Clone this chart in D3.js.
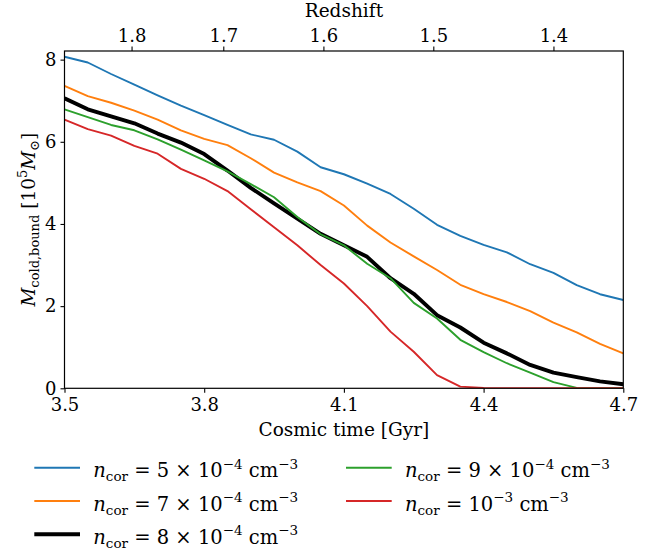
<!DOCTYPE html>
<html>
<head>
<meta charset="utf-8">
<script src="https://cdn.jsdelivr.net/npm/d3@7"></script>
<style>
  body { margin: 0; background: #fff; }
  svg { display: block; font-family: "DejaVu Serif", serif; }
  .axis text { font-size: 18px; fill: #000; font-family: "DejaVu Serif", serif; }
  .axis path, .axis line { stroke: #000; }
</style>
</head>
<body>
<svg id="chart" width="667" height="552"></svg>
<script>
// cosmic time samples [Gyr]
const times = [3.50, 3.55, 3.60, 3.65, 3.70, 3.75, 3.80, 3.85, 3.90, 3.95, 4.00, 4.05, 4.10,
  4.15, 4.20, 4.25, 4.30, 4.35, 4.40, 4.45, 4.50, 4.55, 4.60, 4.65, 4.70];

// M_cold,bound [1e5 Msun] for each n_cor
const mass5e4 = [8.07, 7.93, 7.65, 7.39, 7.13, 6.88, 6.65, 6.41, 6.18, 6.05, 5.76, 5.38, 5.21,
  4.98, 4.73, 4.37, 3.98, 3.71, 3.49, 3.31, 3.02, 2.81, 2.51, 2.29, 2.15];
const mass7e4 = [7.36, 7.11, 6.95, 6.76, 6.54, 6.28, 6.07, 5.92, 5.60, 5.25, 5.01, 4.80, 4.45,
  3.96, 3.55, 3.21, 2.88, 2.52, 2.29, 2.10, 1.88, 1.60, 1.36, 1.08, 0.85];
const mass8e4 = [7.06, 6.79, 6.62, 6.45, 6.20, 5.98, 5.70, 5.30, 4.88, 4.50, 4.13, 3.76, 3.48,
  3.20, 2.68, 2.30, 1.78, 1.48, 1.11, 0.85, 0.57, 0.38, 0.27, 0.17, 0.10];
const mass9e4 = [6.79, 6.60, 6.41, 6.28, 6.06, 5.81, 5.55, 5.28, 4.97, 4.65, 4.17, 3.75, 3.48,
  3.03, 2.68, 2.08, 1.70, 1.18, 0.88, 0.61, 0.38, 0.15, 0.01, 0, 0];
const mass1e3 = [6.54, 6.31, 6.15, 5.90, 5.71, 5.34, 5.10, 4.80, 4.36, 3.92, 3.48, 3.00, 2.55,
  2.00, 1.38, 0.89, 0.32, 0.04, 0.01, 0, 0, 0, 0, 0, 0];

const timeTicks = [3.5, 3.8, 4.1, 4.4, 4.7];
const massTicks = [0, 2, 4, 6, 8];
const redshiftLabels = ["1.8", "1.7", "1.6", "1.5", "1.4"];
const redshiftTimes = [3.644, 3.841, 4.056, 4.292, 4.550];

// legend: mantissa, exponent
const seriesNames = [["5 × ", "−4"], ["7 × ", "−4"], ["8 × ", "−4"], ["9 × ", "−4"], ["", "−3"]];
const seriesColors = ["#1f77b4", "#ff7f0e", "#000000", "#2ca02c", "#d62728"];
const seriesWidths = [1.9, 1.9, 3.9, 1.9, 1.9];
const seriesValues = [mass5e4, mass7e4, mass8e4, mass9e4, mass1e3];

const LEFT = 64.5, RIGHT = 623.3, TOP = 51, BOTTOM = 388.3;

const svg = d3.select("#chart");

const x = d3.scaleLinear().domain([3.5, 4.7]).range([LEFT, RIGHT]);
const y = d3.scaleLinear().domain([0, 8.21]).range([BOTTOM, TOP]);

svg.append("defs").append("clipPath").attr("id", "plot-clip")
  .append("rect")
  .attr("x", LEFT).attr("y", TOP)
  .attr("width", RIGHT - LEFT).attr("height", BOTTOM - TOP);

// curves
const line = d3.line().x((d) => x(d[0])).y((d) => y(d[1]));
const curves = svg.append("g").attr("clip-path", "url(#plot-clip)");
seriesValues.forEach((vals, i) => {
  curves.append("path")
    .datum(times.map((t, j) => [t, vals[j]]))
    .attr("fill", "none")
    .attr("stroke", seriesColors[i])
    .attr("stroke-width", seriesWidths[i])
    .attr("stroke-linejoin", "round")
    .attr("d", line);
});

// axes
const xAxis = d3.axisBottom(x).tickValues(timeTicks).tickFormat(d3.format(".1f"))
  .tickSizeOuter(0).tickSize(4.5).tickPadding(5);
svg.append("g").attr("class", "axis").attr("transform", `translate(0,${BOTTOM})`).call(xAxis);

const yAxis = d3.axisLeft(y).tickValues(massTicks).tickFormat(d3.format("d"))
  .tickSizeOuter(0).tickSize(4).tickPadding(4);
svg.append("g").attr("class", "axis").attr("transform", `translate(${LEFT},0)`).call(yAxis);

const topAxis = d3.axisTop(x).tickValues(redshiftTimes)
  .tickFormat((d, i) => redshiftLabels[i])
  .tickSizeOuter(0).tickSize(4.5).tickPadding(5);
svg.append("g").attr("class", "axis").attr("transform", `translate(0,${TOP})`).call(topAxis);

svg.selectAll(".axis .domain").remove();
svg.selectAll(".axis line").attr("stroke-width", 1.1);

// frame
svg.append("rect")
  .attr("x", LEFT).attr("y", TOP)
  .attr("width", RIGHT - LEFT).attr("height", BOTTOM - TOP)
  .attr("fill", "none").attr("stroke", "#000").attr("stroke-width", 1.2);

// axis titles
const midX = (LEFT + RIGHT) / 2;
svg.append("text").attr("x", midX).attr("y", 16.5)
  .attr("text-anchor", "middle").attr("font-size", 18.5).text("Redshift");

svg.append("text").attr("x", midX).attr("y", 436)
  .attr("text-anchor", "middle").attr("font-size", 18.5).text("Cosmic time [Gyr]");

const yl = svg.append("text")
  .attr("transform", `translate(35,${(TOP + BOTTOM) / 2}) rotate(-90)`)
  .attr("text-anchor", "middle").attr("font-size", 18.5);
yl.append("tspan").attr("font-style", "italic").text("M");
yl.append("tspan").attr("font-size", 13).attr("dy", 4).text("cold,bound");
yl.append("tspan").attr("dy", -4).text(" [10");
yl.append("tspan").attr("font-size", 13).attr("dy", -8).text("5");
yl.append("tspan").attr("dy", 8).attr("font-style", "italic").text("M");
yl.append("tspan").attr("font-size", 13).attr("dy", 4).text("⊙");
yl.append("tspan").attr("dy", -4).text("]");

// legend, two columns filled column-wise
const legendRows = [467.7, 501, 534.3];
const legendCols = [34.3, 346];
seriesNames.forEach((name, i) => {
  const col = Math.floor(i / 3), row = i % 3;
  const lx = legendCols[col], ly = legendRows[row];
  const g = svg.append("g");
  g.append("line")
    .attr("x1", lx).attr("x2", lx + 45.7).attr("y1", ly).attr("y2", ly)
    .attr("stroke", seriesColors[i]).attr("stroke-width", seriesWidths[i]);
  const t = g.append("text").attr("x", lx + 59).attr("y", ly + 9.5).attr("font-size", 19.5);
  t.append("tspan").attr("font-style", "italic").text("n");
  t.append("tspan").attr("font-size", 13.5).attr("dy", 4).text("cor");
  t.append("tspan").attr("dy", -4).text(" = " + name[0] + "10");
  t.append("tspan").attr("font-size", 13.5).attr("dy", -8.5).text(name[1]);
  t.append("tspan").attr("dy", 8.5).text(" cm");
  t.append("tspan").attr("font-size", 13.5).attr("dy", -8.5).text("−3");
});
</script>
</body>
</html>
